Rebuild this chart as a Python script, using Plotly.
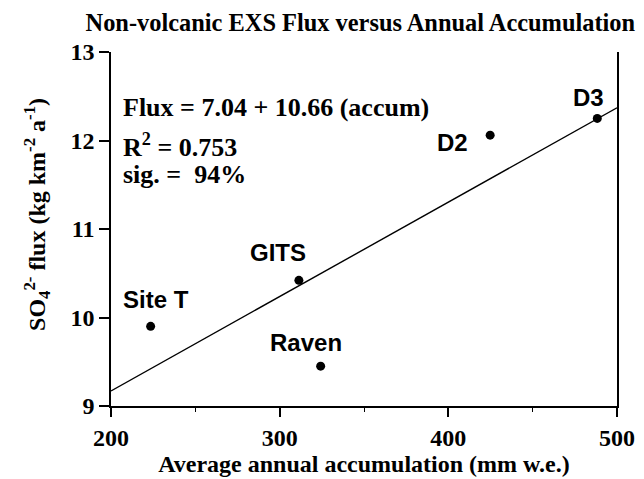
import plotly.graph_objects as go

# site data
sites = ["Site T", "GITS", "Raven", "D2", "D3"]
accum = [223.5, 311.4, 324.3, 424.8, 488.3]  # mm w.e.
flux = [9.90, 10.42, 9.45, 12.06, 12.25]

# regression line end points: Flux = 7.04 + 10.66 (accum)
fit_x = [200, 500]
fit_y = [9.17, 12.37]

x_ticks = [200, 300, 400, 500]
y_ticks = [9, 10, 11, 12, 13]

# label offsets in pixels relative to each dot
label_dx = [5, -21, -15, -38, -9]
label_dy = [27, 28, 24, -7, 21]

serif = "Liberation Serif, Times New Roman, serif"
sans = "Liberation Sans, Arial, sans-serif"

fig = go.Figure()

fig.add_trace(go.Scatter(x=fit_x, y=fit_y, mode='lines',
                         line=dict(color='black', width=1.4), showlegend=False))
fig.add_trace(go.Scatter(x=accum, y=flux, mode='markers',
                         marker=dict(color='black', size=9), showlegend=False))

for name, xv, yv, dx, dy in zip(sites, accum, flux, label_dx, label_dy):
    fig.add_annotation(x=xv, y=yv, text=name, showarrow=False, xshift=dx, yshift=dy,
                       font=dict(family=sans, size=24, color='black', weight='bold'))

# regression statistics
stats = ["Flux = 7.04 + 10.66 (accum)", "R<sup>2</sup> = 0.753", "sig. =  94%"]
stats_y = [0.842, 0.735, 0.655]
for txt, yp in zip(stats, stats_y):
    fig.add_annotation(x=0.02, y=yp, xref='paper', yref='paper', text=txt,
                       showarrow=False, xanchor='left', yanchor='middle',
                       font=dict(family=serif, size=26, color='black', weight='bold'))

# y axis title as a rotated annotation
fig.add_annotation(x=-0.146, y=0.54, xref='paper', yref='paper', textangle=-90,
                   text="SO<sub>4</sub><sup>2-</sup> flux (kg km<sup>-2</sup> a<sup>-1</sup>)",
                   showarrow=False, xanchor='center', yanchor='middle',
                   font=dict(family=serif, size=24, color='black', weight='bold'))

# the page puts the plot 8px in from the top-left corner, so size it to fit
fig.update_layout(
    width=636, height=471,
    margin=dict(l=103, r=27, t=44, b=73),
    paper_bgcolor='white', plot_bgcolor='white',
    title=dict(text="Non-volcanic EXS Flux versus Annual Accumulation",
               x=0.554, xanchor='center', y=0.97, yanchor='middle',
               font=dict(family=serif, size=24.4, color='black', weight='bold')),
    xaxis=dict(range=[200, 500], tickvals=x_ticks, showgrid=False, zeroline=False,
               automargin=False,
               showline=True, linecolor='black', linewidth=1.5,
               ticks='outside', ticklen=9, tickwidth=1.5, tickcolor='black',
               minor=dict(dtick=50, ticks='outside', ticklen=4, tickwidth=1.2, tickcolor='black'),
               tickfont=dict(family=serif, size=24, color='black', weight='bold'),
               title=dict(text="Average annual accumulation (mm w.e.)", standoff=4,
                          font=dict(family=serif, size=24, color='black', weight='bold'))),
    yaxis=dict(range=[9, 13], tickvals=y_ticks, showgrid=False, zeroline=False,
               automargin=False,
               showline=True, linecolor='black', linewidth=1.5, mirror=True,
               ticks='outside', ticklen=10, tickwidth=1.5, tickcolor='black',
               tickfont=dict(family=serif, size=24, color='black', weight='bold')),
)

fig.write_html("out.html", config={"displayModeBar": False})
